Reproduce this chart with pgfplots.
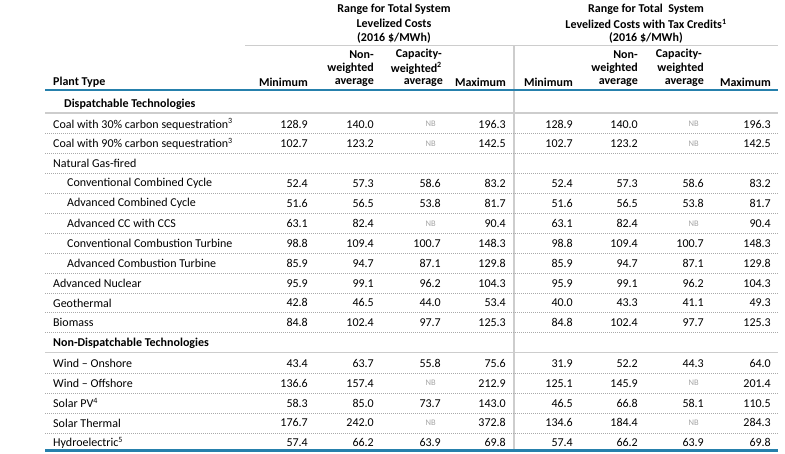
\documentclass[border=0pt]{standalone}
\usepackage{pgfplots}
\pgfplotsset{compat=1.18}
\usepackage{pgfplotstable}
\usepackage{fontspec}
\setmainfont{Carlito}
\definecolor{eiaBlue}{RGB}{38,128,172}
\definecolor{nbGray}{RGB}{165,165,165}
\definecolor{ruleGray}{RGB}{205,205,205}
\definecolor{dotGray}{RGB}{170,170,170}

% NB cells are grey and smaller, numbers right aligned
\newcommand{\cell}[1]{\ifnum\strcmp{#1}{NB}=0 {\color{nbGray}\fontsize{8.5}{10}\selectfont NB}\hspace*{5pt}\else #1\fi}
\newcommand{\sups}[1]{\textsuperscript{#1}}

% y = row centre (px from top), then the eight value columns
\pgfplotstableread[col sep=comma]{
y,mina,nwa,cwa,maxa,minb,nwb,cwb,maxb
123.0,128.9,140.0,NB,196.3,128.9,140.0,NB,196.3
142.7,102.7,123.2,NB,142.5,102.7,123.2,NB,142.5
182.5,52.4,57.3,58.6,83.2,52.4,57.3,58.6,83.2
202.5,51.6,56.5,53.8,81.7,51.6,56.5,53.8,81.7
222.5,63.1,82.4,NB,90.4,63.1,82.4,NB,90.4
242.2,98.8,109.4,100.7,148.3,98.8,109.4,100.7,148.3
262.0,85.9,94.7,87.1,129.8,85.9,94.7,87.1,129.8
282.0,95.9,99.1,96.2,104.3,95.9,99.1,96.2,104.3
301.7,42.8,46.5,44.0,53.4,40.0,43.3,41.1,49.3
321.5,84.8,102.4,97.7,125.3,84.8,102.4,97.7,125.3
362.0,43.4,63.7,55.8,75.6,31.9,52.2,44.3,64.0
382.0,136.6,157.4,NB,212.9,125.1,145.9,NB,201.4
402.0,58.3,85.0,73.7,143.0,46.5,66.8,58.1,110.5
421.7,176.7,242.0,NB,372.8,134.6,184.4,NB,284.3
441.5,57.4,66.2,63.9,69.8,57.4,66.2,63.9,69.8
}\lcoe

\pgfplotsset{valcol/.style={draw=none, mark=none,
    point meta=explicit symbolic,
    nodes near coords={\cell{\pgfplotspointmeta}},
    every node near coord/.append style={anchor=east, inner sep=0pt, text=black}}}

\begin{document}
\fontsize{12}{14}\selectfont
\begin{tikzpicture}
\begin{axis}[width=785pt, height=452pt, scale only axis,
    xmin=0, xmax=785, ymin=0, ymax=452, y dir=reverse,
    hide axis, clip=false]

% rules
\draw[ruleGray, line width=1pt] (axis cs:245,44) -- (axis cs:778,44);
\draw[ruleGray, line width=1.5pt] (axis cs:514,44) -- (axis cs:514,449.5);
\draw[eiaBlue, line width=2.5pt] (axis cs:45,89) -- (axis cs:778,89);
\draw[ruleGray, line width=1.5pt] (axis cs:45,112) -- (axis cs:778,112);
\draw[ruleGray, line width=1.5pt] (axis cs:45,351.5) -- (axis cs:778,351.5);
\pgfplotsinvokeforeach{132.5,152.5,172.5,192.5,212.5,232.5,252.2,272,291.8,311.6,331.5,372,392,412,431.8}{
  \draw[dotGray, line width=0.7pt, dash pattern=on 1pt off 1pt] (axis cs:45,#1) -- (axis cs:778,#1);
}
\draw[eiaBlue, line width=2.5pt] (axis cs:45,449.5) -- (axis cs:778,449.5);

% group headers
\node[font=\bfseries] at (axis cs:394,8) {Range for Total System};
\node[font=\bfseries] at (axis cs:394,22.5) {Levelized Costs};
\node[font=\bfseries] at (axis cs:394,37) {(2016 \$/MWh)};
\node[font=\bfseries] at (axis cs:646,8) {Range for Total\ \ System};
\node[font=\bfseries] at (axis cs:646,22.5) {Levelized Costs with Tax Credits\sups{1}};
\node[font=\bfseries] at (axis cs:646,37) {(2016 \$/MWh)};

% column headers
\begin{scope}[every node/.style={font=\bfseries, anchor=east, inner sep=0pt}]
\node at (axis cs:308,81) {Minimum};
\node at (axis cs:374,53) {Non-};
\node at (axis cs:374,67) {weighted};
\node at (axis cs:374,81) {average};
\node at (axis cs:442,53) {Capacity-};
\node at (axis cs:442,67) {weighted\sups{2}};
\node at (axis cs:443,81) {average};
\node at (axis cs:506,81) {Maximum};
\node at (axis cs:573,81) {Minimum};
\node at (axis cs:638,53) {Non-};
\node at (axis cs:638,67) {weighted};
\node at (axis cs:638,81) {average};
\node at (axis cs:702,53) {Capacity-};
\node at (axis cs:704,67) {weighted};
\node at (axis cs:704,81) {average};
\node at (axis cs:771,81) {Maximum};
\node[anchor=west] at (axis cs:53,81) {Plant Type};
\end{scope}

% row labels
\begin{scope}[every node/.style={anchor=west, inner sep=0pt}]
\node[font=\bfseries] at (axis cs:64,103) {Dispatchable Technologies};
\node at (axis cs:53,123) {Coal with 30\% carbon sequestration\sups{3}};
\node at (axis cs:53,142.7) {Coal with 90\% carbon sequestration\sups{3}};
\node at (axis cs:53,162.5) {Natural Gas-fired};
\node at (axis cs:67,182.5) {Conventional Combined Cycle};
\node at (axis cs:67,202.5) {Advanced Combined Cycle};
\node at (axis cs:67,222.5) {Advanced CC with CCS};
\node at (axis cs:67,242.2) {Conventional Combustion Turbine};
\node at (axis cs:67,262) {Advanced Combustion Turbine};
\node at (axis cs:53,282) {Advanced Nuclear};
\node at (axis cs:53,301.7) {Geothermal};
\node at (axis cs:53,321.5) {Biomass};
\node[font=\bfseries] at (axis cs:53,342) {Non-Dispatchable Technologies};
\node at (axis cs:53,362) {Wind -- Onshore};
\node at (axis cs:53,382) {Wind -- Offshore};
\node at (axis cs:53,402) {Solar PV\sups{4}};
\node at (axis cs:53,421.7) {Solar Thermal};
\node at (axis cs:53,441.5) {Hydroelectric\sups{5}};
\end{scope}

% values
\addplot[valcol] table[x expr=308, y=y, meta=mina] {\lcoe};
\addplot[valcol] table[x expr=374, y=y, meta=nwa] {\lcoe};
\addplot[valcol] table[x expr=441, y=y, meta=cwa] {\lcoe};
\addplot[valcol] table[x expr=506, y=y, meta=maxa] {\lcoe};
\addplot[valcol] table[x expr=573, y=y, meta=minb] {\lcoe};
\addplot[valcol] table[x expr=638, y=y, meta=nwb] {\lcoe};
\addplot[valcol] table[x expr=704, y=y, meta=cwb] {\lcoe};
\addplot[valcol] table[x expr=771, y=y, meta=maxb] {\lcoe};
\end{axis}
\useasboundingbox (0,0) rectangle (785pt,452pt);
\end{tikzpicture}
\end{document}
